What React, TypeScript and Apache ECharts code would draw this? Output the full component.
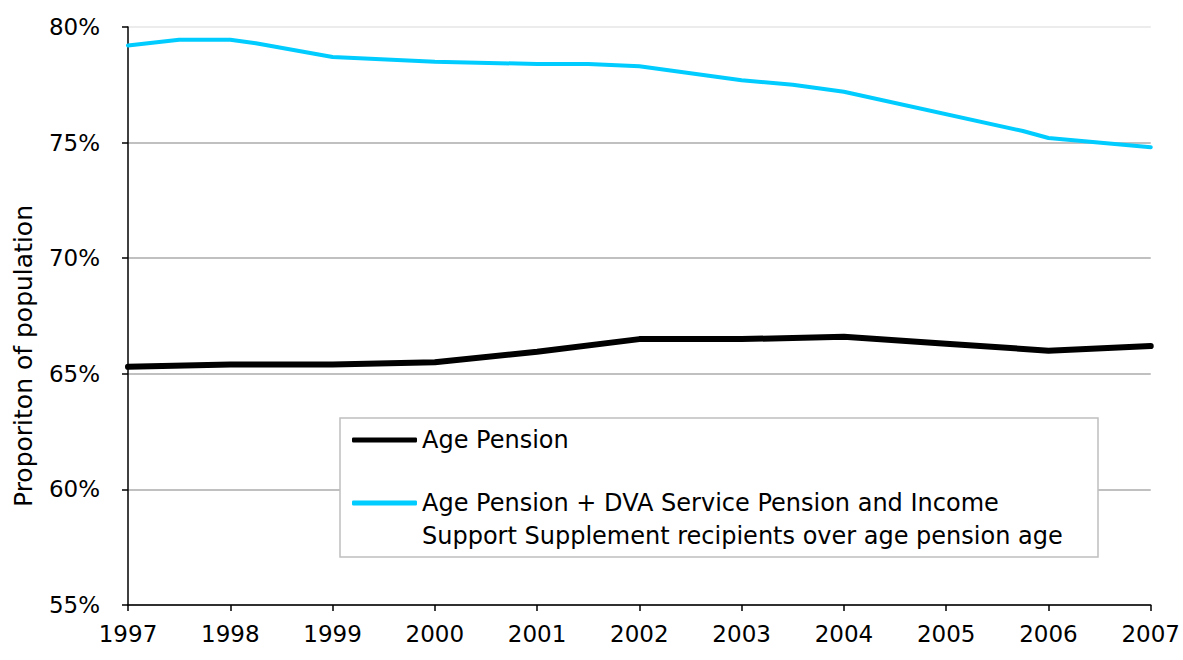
import React, { useEffect, useRef } from "react";
import * as echarts from "echarts";

// Tick range of the category axis (years)
const xMin = 1997;
const xMax = 2007;

// Age Pension series (yearly)
const agePensionYears = [1997, 1998, 1999, 2000, 2001, 2002, 2003, 2004, 2005, 2006, 2007];
const agePensionValues = [65.3, 65.4, 65.4, 65.5, 65.95, 66.5, 66.5, 66.6, 66.3, 66.0, 66.2];

// Age Pension + DVA Service Pension and Income Support Supplement recipients
const combinedYears = [1997, 1997.5, 1998, 1998.25, 1999, 2000, 2001, 2001.5, 2002, 2003, 2003.5, 2004, 2005.75, 2006, 2007];
const combinedValues = [79.2, 79.45, 79.45, 79.3, 78.7, 78.5, 78.4, 78.4, 78.3, 77.7, 77.5, 77.2, 75.5, 75.2, 74.8];

const seriesNameA = "Age Pension";
const legendLine1 = "Age Pension + DVA Service Pension and Income";
const legendLine2 = "Support Supplement recipients over age pension age";
const seriesNameB = legendLine1 + " " + legendLine2;
const yAxisTitle = "Proporiton of population";

const FONT = "DejaVu Sans";

export default function App() {
  const ref = useRef<HTMLDivElement>(null);
  useEffect(() => {
    if (!ref.current) return;
    const chart = echarts.init(ref.current, undefined, { renderer: "svg" });
    chart.setOption({
      animation: false,
      backgroundColor: "#ffffff",
      grid: { left: 128, right: 32, top: 27, bottom: 55 },
      xAxis: {
        type: "value",
        min: xMin,
        max: xMax,
        interval: 1,
        axisLine: { show: true, lineStyle: { color: "#000", width: 1.5 } },
        axisTick: { show: true, length: 6, lineStyle: { color: "#000", width: 1.5 } },
        axisLabel: {
          formatter: (v: number) => String(v),
          color: "#000",
          fontFamily: FONT,
          fontSize: 23,
          margin: 17,
        },
        splitLine: { show: false },
      },
      yAxis: {
        type: "value",
        min: 55,
        max: 80,
        interval: 5,
        name: yAxisTitle,
        nameLocation: "middle",
        nameGap: 92,
        nameTextStyle: {
          color: "#000",
          fontFamily: FONT,
          fontSize: 25,
          padding: [0, 80, 0, 0],
        },
        axisLine: { show: true, lineStyle: { color: "#000", width: 1.5 } },
        axisTick: { show: true, length: 6, lineStyle: { color: "#000", width: 1.5 } },
        axisLabel: {
          formatter: (v: number) => v + "%",
          color: "#000",
          fontFamily: FONT,
          fontSize: 23,
          margin: 28,
        },
        splitLine: {
          show: true,
          lineStyle: {
            color: ["#c0c0c0", "#c0c0c0", "#c0c0c0", "#c0c0c0", "#c0c0c0", "#ececec"],
            width: 2,
          },
        },
      },
      legend: {
        show: true,
        orient: "vertical",
        left: 352,
        top: 427,
        padding: 0,
        z: 10,
        itemWidth: 65,
        itemHeight: 5,
        itemGap: 37,
        icon: "roundRect",
        data: [seriesNameA, seriesNameB],
        formatter: (name: string) => (name === seriesNameB ? legendLine1 : name),
        textStyle: { color: "#000", fontFamily: FONT, fontSize: 24, lineHeight: 26 },
      },
      graphic: [
        {
          type: "rect",
          z: 5,
          shape: { x: 340, y: 418, width: 758, height: 139 },
          style: { fill: "#ffffff", stroke: "#bfbfbf", lineWidth: 1.5 },
        },
        {
          type: "text",
          z: 11,
          x: 422,
          y: 536,
          style: {
            text: legendLine2,
            fill: "#000",
            fontFamily: FONT,
            fontSize: 24,
            verticalAlign: "middle",
          },
        },
      ],
      series: [
        {
          name: seriesNameA,
          type: "line",
          showSymbol: false,
          symbol: "none",
          color: "#000000",
          lineStyle: { color: "#000000", width: 6, cap: "round", join: "round" },
          data: agePensionYears.map((y, i) => [y, agePensionValues[i]]),
        },
        {
          name: seriesNameB,
          type: "line",
          showSymbol: false,
          symbol: "none",
          color: "#00ccff",
          lineStyle: { color: "#00ccff", width: 4, cap: "round", join: "round" },
          data: combinedYears.map((y, i) => [y, combinedValues[i]]),
        },
      ],
    });
    return () => chart.dispose();
  }, []);
  return (
    <div
      ref={ref}
      style={{ position: "absolute", left: 0, top: 0, width: 1183, height: 660 }}
    />
  );
}
